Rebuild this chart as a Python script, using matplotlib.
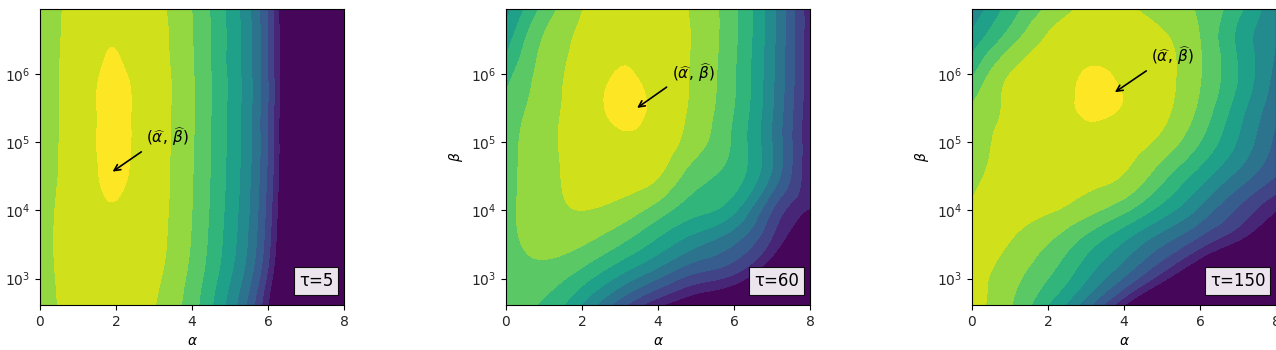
import numpy as np
import matplotlib
matplotlib.use("Agg")
import matplotlib.pyplot as plt
import matplotlib.tri as mtri
from matplotlib.ticker import LogLocator, NullLocator

alpha_nodes = [0, 1, 2, 3, 4, 5, 6, 7, 8]
log_beta_nodes = [2.5, 3.0, 3.5, 4.0, 4.5, 5.0, 5.5, 6.0, 6.5, 7.0]

# contour level at the nodes (rows: log10 beta, cols: alpha)
levels_tau5 = [
    [9.35, 10.5, 10.65, 10.0, 8.4, 5.5, 0.9, -6.5, -15],
    [9.45, 10.6, 10.8, 10.2, 8.65, 6.05, 1.7, -6.0, -14],
    [9.55, 10.65, 10.9, 10.35, 8.9, 6.45, 2.35, -5.5, -14],
    [9.55, 10.6, 10.95, 10.4, 9.0, 6.6, 2.6, -5.2, -14],
    [9.5, 10.55, 11.1, 10.45, 9.05, 6.7, 2.8, -5.0, -14],
    [9.45, 10.55, 11.15, 10.48, 9.1, 6.75, 2.9, -5.0, -14],
    [9.4, 10.55, 11.15, 10.5, 9.12, 6.78, 2.95, -4.9, -14],
    [9.35, 10.55, 11.08, 10.48, 9.1, 6.78, 2.95, -4.9, -14],
    [9.3, 10.5, 10.97, 10.4, 9.05, 6.75, 2.95, -4.9, -14],
    [9.2, 10.45, 10.85, 10.3, 8.95, 6.7, 2.9, -5.0, -14],
]
levels_tau60 = [
    [8.2, 7.6, 5.5, 2.7, 0.3, -1.0, -2.5, -4.5, -8],
    [8.5, 8.5, 7.4, 5.7, 4.0, 2.5, 1.6, -1.0, -4.5],
    [8.7, 9.3, 9.05, 8.0, 6.6, 5.2, 4.0, 1.7, -1.5],
    [8.75, 9.6, 10.0, 9.6, 8.5, 7.3, 6.2, 3.0, 0.9],
    [8.75, 9.6, 10.35, 10.5, 10.05, 8.4, 7.5, 4.8, 1.15],
    [8.65, 9.65, 10.45, 10.85, 10.6, 9.4, 7.8, 5.0, 1.2],
    [8.3, 9.55, 10.5, 11.2, 10.75, 9.72, 8.0, 5.1, 1.2],
    [7.6, 9.4, 10.4, 11.05, 10.63, 9.8, 8.1, 5.2, 1.25],
    [6.5, 9.1, 10.2, 10.8, 10.6, 9.85, 8.2, 5.3, 1.3],
    [5.5, 8.2, 9.95, 10.5, 10.4, 9.8, 8.2, 5.3, 1.3],
]
levels_tau150 = [
    [10.3, 9.0, 6.6, 3.8, 0.0, -3.8, -7.0, -10.0, -13.0],
    [10.37, 9.39, 8.0, 6.1, 3.88, 1.38, -1.5, -4.5, -7.5],
    [10.35, 9.95, 8.96, 7.46, 5.83, 4.09, 2.33, 0.62, -1.5],
    [10.1, 10.3, 10.1, 9.37, 8.23, 6.55, 4.73, 2.83, 1.05],
    [9.8, 10.35, 10.5, 10.3, 9.92, 8.33, 6.5, 4.67, 3.0],
    [9.5, 10.3, 10.6, 10.75, 10.5, 9.69, 8.0, 5.9, 3.75],
    [9.1, 10.2, 10.65, 11.1, 10.95, 10.3, 8.78, 6.5, 4.3],
    [7.8, 10.0, 10.5, 11.05, 10.85, 10.35, 9.06, 7.0, 4.7],
    [6.4, 8.55, 10.15, 10.6, 10.55, 10.15, 9.0, 6.8, 5.0],
    [5.1, 7.3, 9.0, 10.15, 10.1, 9.6, 8.8, 7.4, 5.1],
]

taus = [5, 60, 150]
fields = [levels_tau5, levels_tau60, levels_tau150]
mle_alpha = [1.85, 3.39, 3.7]
mle_beta = [3.5e4, 3.0e5, 5.1e5]
label_alpha = [2.8, 4.36, 4.72]
label_beta = [8.1e4, 7.2e5, 1.24e6]

fig = plt.figure(figsize=(12.76, 3.5), dpi=100)
lefts = [40, 506, 972]

A, LB = np.meshgrid(alpha_nodes, log_beta_nodes)
base = mtri.Triangulation(A.ravel(), 2 * LB.ravel())
refiner = mtri.UniformTriRefiner(base)

for i in range(3):
    ax = fig.add_axes([lefts[i] / 1276, 45 / 350, 304 / 1276, 296 / 350])
    fine, zf = refiner.refine_field(np.ravel(fields[i]), subdiv=4)
    tri_plot = mtri.Triangulation(fine.x, 10 ** (fine.y / 2), fine.triangles)
    zf = np.clip(zf, 0.05, 11.95)
    ax.tricontourf(tri_plot, zf, levels=np.arange(13), cmap="viridis",
                   norm=plt.Normalize(0.3, 11.3))
    ax.set_yscale("log")
    ax.set_xlim(0, 8)
    ax.set_ylim(411, 8.9e6)
    ax.set_xticks([0, 2, 4, 6, 8])
    ax.yaxis.set_major_locator(LogLocator(base=10, numticks=10))
    ax.yaxis.set_minor_locator(NullLocator())
    ax.tick_params(labelcolor="#262626")
    ax.set_xlabel(r"$\alpha$")
    if i > 0:
        ax.set_ylabel(r"$\beta$")

    ax.annotate(r"$(\widehat{\alpha},\,\widehat{\beta})$",
                xy=(mle_alpha[i], mle_beta[i]),
                xytext=(label_alpha[i], label_beta[i]),
                fontsize=11, va="bottom", ha="left",
                arrowprops=dict(arrowstyle="->", color="black", lw=1.2,
                                relpos=(0, 0)))
    ax.text(0.965, 0.05, "τ=%d" % taus[i], transform=ax.transAxes,
            fontsize=12, ha="right", va="bottom",
            bbox=dict(boxstyle="square,pad=0.3", facecolor="white",
                      alpha=0.9, edgecolor="black", lw=0.8))

fig.savefig("out.png", dpi=100)
